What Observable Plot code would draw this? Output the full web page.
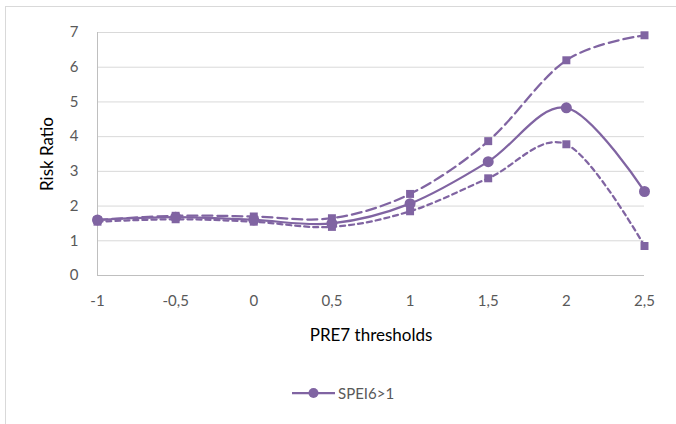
<!DOCTYPE html>
<html>
<head>
<meta charset="utf-8">
<script src="https://cdn.jsdelivr.net/npm/d3@7"></script>
<script src="https://cdn.jsdelivr.net/npm/@observablehq/plot@0.6"></script>
<style>
  html, body { margin: 0; padding: 0; background: #fff; overflow: hidden; width: 676px; height: 424px; }
  #wrap { position: relative; width: 676px; height: 424px; }
  #frame { position: absolute; left: 5px; top: 6px; width: 700px; height: 500px; border: 1px solid #d9d9d9; pointer-events: none; }
  #chart { position: absolute; left: 0; top: 0; }
  #legend { position: absolute; left: 0; top: 382px; width: 676px; font-family: Lato, "Liberation Sans", sans-serif; font-size: 15px; color: #595959; }
  #legend .item { position: absolute; left: 290px; top: 0; display: flex; align-items: center; height: 22px; }
</style>
</head>
<body>
<div id="wrap">
  <div id="chart"></div>
  <div id="frame"></div>
  <div id="legend"></div>
</div>
<script>
const thresholds = [-1, -0.5, 0, 0.5, 1, 1.5, 2, 2.5];
const riskRatio  = [1.60, 1.68, 1.60, 1.50, 2.07, 3.28, 4.83, 2.42];
const upperBound = [1.60, 1.72, 1.70, 1.65, 2.35, 3.87, 6.20, 6.92];
const lowerBound = [1.55, 1.62, 1.55, 1.40, 1.85, 2.80, 3.78, 0.85];
const yTicks = [0, 1, 2, 3, 4, 5, 6, 7];
const seriesName = "SPEI6>1";

const color = "#8064a2";
const mk = arr => thresholds.map((x, i) => ({x, y: arr[i]}));
const main = mk(riskRatio), up = mk(upperBound), lo = mk(lowerBound);
const fmt = d => String(d).replace(".", ",");

const chart = Plot.plot({
  width: 676,
  height: 424,
  marginLeft: 97,
  marginRight: 32,
  marginTop: 32,
  marginBottom: 149,
  style: { fontFamily: "Lato, 'Liberation Sans', sans-serif", fontSize: "15px", color: "#595959", background: "transparent" },
  x: { domain: [-1, 2.5], ticks: thresholds, tickFormat: fmt, label: "PRE7 thresholds" },
  y: { domain: [0, 7], ticks: yTicks, tickFormat: fmt, label: "Risk Ratio" },
  marks: [
    Plot.gridY(yTicks.filter(d => d > 0), { stroke: "#d9d9d9", strokeOpacity: 1, strokeWidth: 1 }),
    Plot.ruleY([0], { stroke: "#bfbfbf", strokeWidth: 1 }),
    Plot.ruleX([-1], { stroke: "#bfbfbf", strokeWidth: 1 }),
    Plot.axisX({ ticks: thresholds, tickFormat: fmt, tickSize: 0, tickPadding: 20, label: "PRE7 thresholds", labelAnchor: "center", labelArrow: "none", labelOffset: 65, fontSize: 15 }),
    Plot.axisY({ ticks: yTicks, tickFormat: fmt, tickSize: 0, tickPadding: 19, label: "Risk Ratio", labelAnchor: "center", labelArrow: "none", labelOffset: 57, fontSize: 15 }),
    Plot.line(up, { x: "x", y: "y", stroke: color, strokeWidth: 2.25, strokeDasharray: "10,5", curve: "cardinal" }),
    Plot.line(lo, { x: "x", y: "y", stroke: color, strokeWidth: 2.25, strokeDasharray: "5,4", curve: "cardinal" }),
    Plot.line(main, { x: "x", y: "y", stroke: color, strokeWidth: 2.25, curve: "cardinal" }),
    Plot.dot(up, { x: "x", y: "y", symbol: "square", fill: color, r: 4.5 }),
    Plot.dot(lo, { x: "x", y: "y", symbol: "square", fill: color, r: 4.5 }),
    Plot.dot(main, { x: "x", y: "y", symbol: "circle", fill: color, r: 5.5 })
  ]
});
chart.querySelectorAll("[aria-label='x-axis label'] text, [aria-label='y-axis label'] text").forEach(t => { t.setAttribute("fill", "#000"); t.style.fontSize = "17px"; });
document.getElementById("chart").appendChild(chart);

const leg = document.getElementById("legend");
const item = document.createElement("div");
item.className = "item";
item.innerHTML = `<svg width="48" height="22"><line x1="2" x2="45" y1="11" y2="11" stroke="${color}" stroke-width="2.25"/><circle cx="23.5" cy="11" r="5" fill="${color}"/></svg><span>${seriesName}</span>`;
leg.appendChild(item);
</script>
</body>
</html>
